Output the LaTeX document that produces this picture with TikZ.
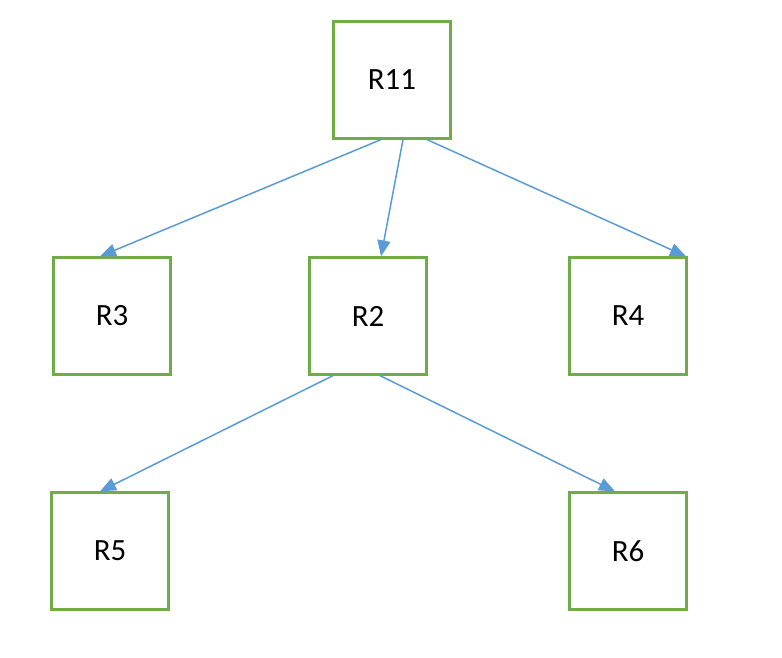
\documentclass[tikz,border=0pt]{standalone}
\usepackage{fontspec}
\setmainfont{Carlito}
\usetikzlibrary{arrows.meta}
\definecolor{boxgreen}{RGB}{112,173,71}
\definecolor{linkblue}{RGB}{91,155,213}
\tikzset{
  rbox/.style={draw=boxgreen, line width=0.045cm, minimum size=2.34cm, inner sep=0,
    font=\fontsize{17.6}{20}\selectfont},
  link/.style={linkblue, line width=0.03cm, -{Triangle[length=0.32cm,width=0.26cm]}}
}

\begin{document}
\begin{tikzpicture}[x=0.02cm,y=-0.02cm]
    \useasboundingbox (0,0) rectangle (782,658);
    \foreach \n/\x/\y in {R11/392/80,R3/112/316,R2/368/316,R4/628/316,R5/110/551,R6/628/551}{
      \node[rbox] (\n) at (\x,\y) {\n};}
    \draw[link] ([xshift=-0.22cm]R11.south) -- ([xshift=-0.24cm]R3.north);
    \draw[link] ([xshift=0.22cm]R11.south) -- ([xshift=0.26cm]R2.north);
    \draw[link] ([xshift=0.70cm]R11.south) -- ([xshift=1.16cm]R4.north);
    \draw[link] ([xshift=-0.70cm]R2.south) -- ([xshift=-0.20cm]R5.north);
    \draw[link] ([xshift=0.24cm]R2.south) -- ([xshift=-0.26cm]R6.north);
  \end{tikzpicture}
\end{document}
